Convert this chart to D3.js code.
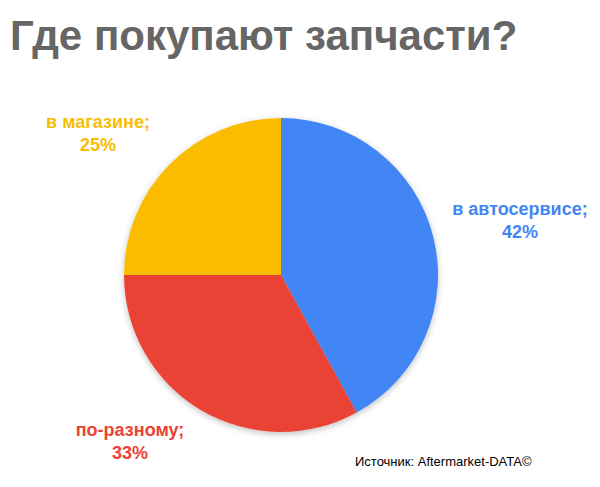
<!DOCTYPE html>
<html><head><meta charset="utf-8">
<script src="https://cdn.jsdelivr.net/npm/d3@7"></script>
<style>body{margin:0;background:#fff}</style></head>
<body><svg id="c" width="600" height="487"></svg>
<script>
const categories = ["в автосервисе;", "по-разному;", "в магазине;"];
const values = [42, 33, 25];
const colors = ["#4285F4", "#EA4335", "#FBBC04"];
const labelPos = [[520, 215], [130, 436], [98, 128]];

const svg = d3.select("#c");
svg.append("text").attr("x", 10).attr("y", 50)
  .attr("font-family", "Liberation Sans, Arial, sans-serif").attr("font-weight", "bold")
  .attr("font-size", 42).attr("fill", "#666666").text("Где покупают запчасти?");

const defs = svg.append("defs");
const f = defs.append("filter").attr("id", "sh").attr("x", "-20%").attr("y", "-20%").attr("width", "140%").attr("height", "140%");
f.append("feDropShadow").attr("dx", 0).attr("dy", 2).attr("stdDeviation", 3).attr("flood-opacity", 0.25);

const pie = d3.pie().sort(null).value(d => d)(values);
const arc = d3.arc().innerRadius(0).outerRadius(157);
const g = svg.append("g").attr("transform", "translate(281,275)").attr("filter", "url(#sh)");
g.selectAll("path").data(pie).join("path").attr("d", arc).attr("fill", (d, i) => colors[i]);

categories.forEach((c, i) => {
  const t = svg.append("text").attr("text-anchor", "middle")
    .attr("font-family", "Liberation Sans, Arial, sans-serif").attr("font-weight", "bold")
    .attr("font-size", 18).attr("fill", colors[i]);
  t.append("tspan").attr("x", labelPos[i][0]).attr("y", labelPos[i][1]).text(c);
  t.append("tspan").attr("x", labelPos[i][0]).attr("y", labelPos[i][1] + 23).text(values[i] + "%");
});

svg.append("text").attr("x", 355).attr("y", 466)
  .attr("font-family", "Liberation Sans, Arial, sans-serif").attr("font-size", 13)
  .attr("fill", "#000").text("Источник: Aftermarket-DATA©");
</script></body></html>
